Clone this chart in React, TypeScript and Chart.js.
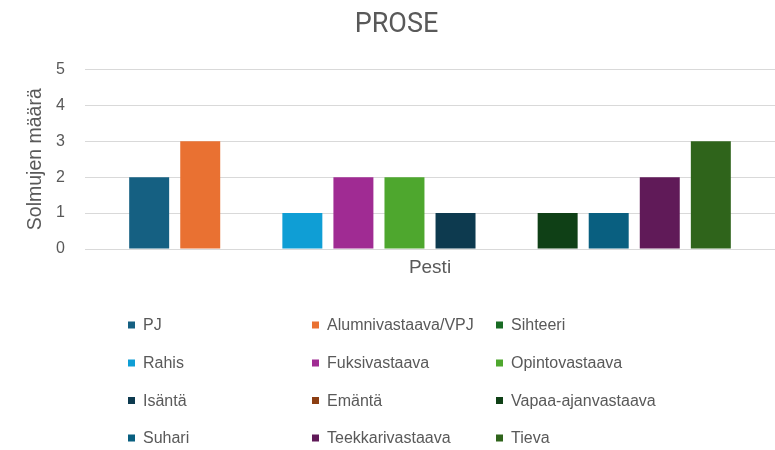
import React, { useEffect, useRef } from "react";
import { Chart, registerables } from "chart.js";

Chart.register(...registerables);

const categories = ["Pesti"];
const seriesNames = [
  "PJ",
  "Alumnivastaava/VPJ",
  "Sihteeri",
  "Rahis",
  "Fuksivastaava",
  "Opintovastaava",
  "Isäntä",
  "Emäntä",
  "Vapaa-ajanvastaava",
  "Suhari",
  "Teekkarivastaava",
  "Tieva",
];
const seriesValues = [2, 3, 0, 1, 2, 2, 1, 0, 1, 1, 2, 3];
const seriesColors = [
  "#156082",
  "#E97132",
  "#196B24",
  "#0F9ED5",
  "#A02B93",
  "#4EA72E",
  "#0D3A4F",
  "#8C3E12",
  "#0F4016",
  "#095F80",
  "#601A58",
  "#2F641B",
];
const yMin = 0;
const yMax = 5;
const yStep = 1;
const chartTitle = "PROSE";
const yAxisTitle = "Solmujen määrä";
const xAxisTitle = "Pesti";

const TEXT = "#595959";
const SANS = '"Liberation Sans", Arial, sans-serif';

const gridLegend = {
  id: "gridLegend",
  afterDraw(chart: any) {
    const ctx = chart.ctx;
    const cols = [128, 312, 496];
    const rows = [325, 363, 400.5, 438];
    ctx.save();
    ctx.font = `16px ${SANS}`;
    ctx.textBaseline = "middle";
    ctx.textAlign = "left";
    chart.data.datasets.forEach((ds: any, i: number) => {
      const x = cols[i % 3];
      const y = rows[Math.floor(i / 3)];
      ctx.fillStyle = ds.backgroundColor;
      ctx.fillRect(x, y - 3.5, 7, 7);
      ctx.fillStyle = TEXT;
      ctx.fillText(ds.label, x + 15, y + 1);
    });
    ctx.restore();
  },
};

export default function App() {
  const ref = useRef<HTMLCanvasElement | null>(null);

  useEffect(() => {
    if (!ref.current) return;
    const chart = new Chart(ref.current, {
      type: "bar",
      data: {
        labels: categories,
        datasets: seriesNames.map((name, i) => ({
          label: name,
          data: [seriesValues[i]],
          backgroundColor: seriesColors[i],
          borderWidth: 0,
          categoryPercentage: 0.888,
          barPercentage: 0.783,
        })),
      },
      options: {
        animation: false,
        responsive: false,
        layout: { padding: { left: 18, right: 0, top: 0, bottom: 170.6 } },
        plugins: {
          legend: { display: false },
          tooltip: { enabled: false },
          title: {
            display: true,
            text: chartTitle,
            color: TEXT,
            font: { family: "Roboto, sans-serif", size: 27, weight: "normal" },
            padding: { top: 9, bottom: 28 },
          },
        },
        scales: {
          x: {
            grid: { display: false, drawTicks: false },
            border: { display: false },
            ticks: { display: false },
            title: {
              display: true,
              text: xAxisTitle,
              color: TEXT,
              font: { family: SANS, size: 19 },
              padding: { top: 7.6, bottom: 0 },
            },
          },
          y: {
            min: yMin,
            max: yMax,
            afterFit: (scale: any) => {
              scale.width = 67;
            },
            grid: { color: "#D9D9D9", lineWidth: 1, drawTicks: false },
            border: { display: false },
            ticks: {
              stepSize: yStep,
              color: TEXT,
              padding: 20,
              font: { family: SANS, size: 16 },
            },
            title: {
              display: true,
              text: yAxisTitle,
              color: TEXT,
              font: { family: SANS, size: 19.5 },
              padding: { top: 6.3, bottom: 0 },
            },
          },
        },
      },
      plugins: [gridLegend],
    });
    return () => chart.destroy();
  }, []);

  return (
    <div style={{ position: "fixed", left: 0, top: 0, width: 775, height: 450, background: "#fff" }}>
      <canvas ref={ref} width={775} height={450} style={{ display: "block" }} />
    </div>
  );
}
